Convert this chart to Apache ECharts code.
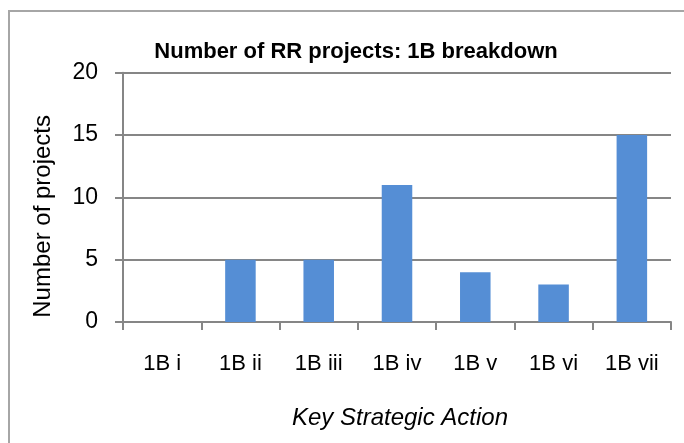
<!DOCTYPE html>
<html>
<head>
<meta charset="utf-8">
<script src="https://cdn.jsdelivr.net/npm/echarts@6/dist/echarts.min.js"></script>
<style>
html,body{margin:0;padding:0;background:#fff;}
#chart{width:684px;height:443px;}
</style>
</head>
<body>
<div id="chart"></div>
<script>
var categories = ['1B i', '1B ii', '1B iii', '1B iv', '1B v', '1B vi', '1B vii'];
var projectCounts = [0, 5, 5, 11, 4, 3, 15];
var yTicks = [0, 5, 10, 15, 20];

var FONT = '"Liberation Sans", Arial, sans-serif';
var chart = echarts.init(document.getElementById('chart'), null, {renderer: 'canvas'});
chart.setOption({
  backgroundColor: '#ffffff',
  animation: false,
  title: {
    text: 'Number of RR projects: 1B breakdown',
    left: 351, top: 36, textAlign: 'center',
    textStyle: {fontFamily: FONT, fontWeight: 'bold', fontSize: 22, color: '#000'}
  },
  graphic: [{
    type: 'rect', silent: true,
    shape: {x: 9, y: 11, width: 700, height: 460},
    style: {fill: 'none', stroke: '#a6a6a6', lineWidth: 2}
  }],
  grid: {left: 123, right: 13, top: 72.7, bottom: 121, containLabel: false},
  xAxis: {
    type: 'category',
    data: categories,
    name: 'Key Strategic Action',
    nameLocation: 'middle',
    nameGap: 84,
    nameTextStyle: {fontFamily: FONT, fontStyle: 'italic', fontSize: 24, color: '#000', padding: [0, 0, 0, 6]},
    axisLine: {lineStyle: {color: '#868686', width: 2}},
    axisTick: {show: true, length: 8, lineStyle: {color: '#868686', width: 2}},
    axisLabel: {fontFamily: FONT, fontSize: 22, color: '#000', margin: 31}
  },
  yAxis: {
    type: 'value',
    min: yTicks[0], max: yTicks[yTicks.length - 1], interval: 5,
    name: 'Number of projects',
    nameLocation: 'middle',
    nameGap: 68,
    nameTextStyle: {fontFamily: FONT, fontSize: 24, color: '#000', padding: [0, 0, 0, -38]},
    axisLine: {show: true, lineStyle: {color: '#868686', width: 2}},
    axisTick: {show: true, length: 8, lineStyle: {color: '#868686', width: 2}},
    splitLine: {show: true, lineStyle: {color: '#868686', width: 2}},
    axisLabel: {fontFamily: FONT, fontSize: 23, color: '#000', margin: 25}
  },
  series: [{
    type: 'bar',
    data: projectCounts,
    barWidth: '39%',
    itemStyle: {color: '#558ed5'}
  }]
});
</script>
</body>
</html>
